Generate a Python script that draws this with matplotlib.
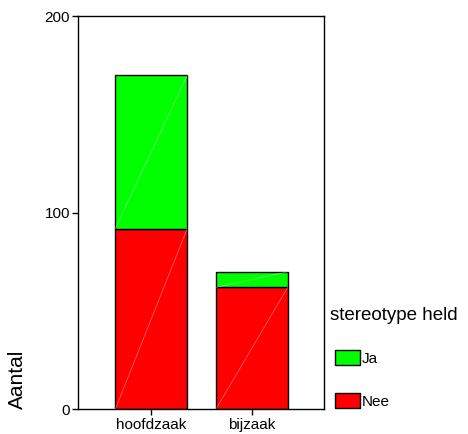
import matplotlib
matplotlib.use("Agg")
import matplotlib.pyplot as plt
from matplotlib.patches import Patch
import numpy as np

plt.rcParams['font.family'] = ['Liberation Sans', 'DejaVu Sans']

categories = ["hoofdzaak", "bijzaak"]
nee = [92, 62]
ja = [78, 8]
series_labels = ["Ja", "Nee"]
legend_title = "stereotype held"
y_label = "Aantal"
y_ticks = [0, 100, 200]

GREEN = "#00ff00"
RED = "#ff0000"

fig = plt.figure(figsize=(4.68, 4.34), dpi=100)
ax = fig.add_axes([78.3/468, 1 - 409.3/434, 246/468, 393/434])

x = np.arange(len(categories))
w = 0.717
b1 = ax.bar(x, nee, width=w, color=RED, edgecolor="black", linewidth=1.0, zorder=2)
b2 = ax.bar(x, ja, width=w, bottom=nee, color=GREEN, edgecolor="black", linewidth=1.0, zorder=2)

# faint diagonal lines inside each segment
for bottoms, heights in (([0]*len(nee), nee), (nee, ja)):
    for xi, b0, h in zip(x, bottoms, heights):
        ax.plot([xi - w/2, xi + w/2], [b0, b0 + h], color="white", lw=0.5, alpha=0.45, zorder=3)

ax.set_xlim(-0.727, 1.723)
ax.set_ylim(0, 200)
ax.set_yticks(y_ticks)
ax.set_yticklabels([str(t) for t in y_ticks])
ax.set_xticks(x)
ax.set_xticklabels(categories)
ax.tick_params(axis='both', labelsize=11, length=4, width=1, color='black', pad=2)
for s in ax.spines.values():
    s.set_linewidth(1.0)

fig.text(17/468, 1 - 409/434, y_label, rotation=90, va='bottom', ha='center', fontsize=15)

fig.text(330/468, 1 - 320/434, legend_title, ha='left', va='baseline', fontsize=13.5)

handles = [Patch(facecolor=GREEN, edgecolor='black', linewidth=1.0),
           Patch(facecolor=RED, edgecolor='black', linewidth=1.0)]
leg = fig.legend(handles, series_labels, loc='upper left',
                 bbox_to_anchor=(335/468, 1 - 350/434), frameon=False,
                 fontsize=11,
                 handlelength=1.64, handleheight=1.15, handletextpad=0.1,
                 labelspacing=1.8, borderpad=0, borderaxespad=0)

fig.savefig("out.png", dpi=100)
